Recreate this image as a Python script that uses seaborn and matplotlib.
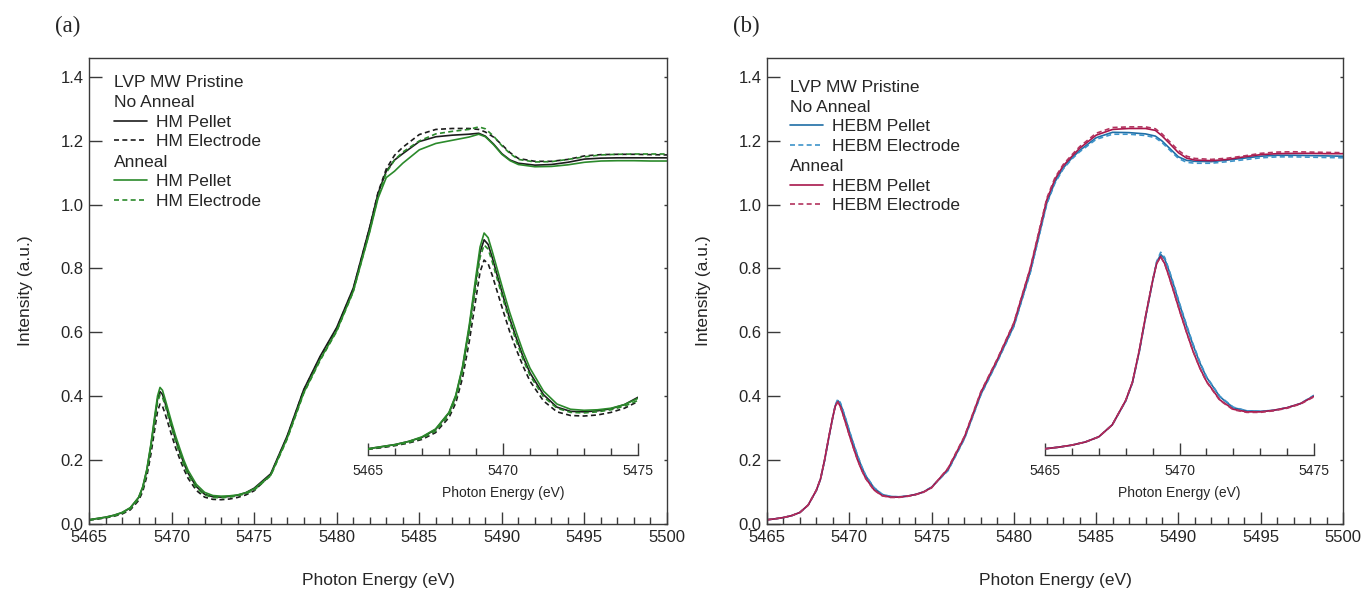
import matplotlib
matplotlib.use("Agg")
import matplotlib.pyplot as plt
from matplotlib.ticker import MultipleLocator
import pandas as pd
import seaborn as sns

# ---------------- data ----------------
energy = [5465, 5465.5, 5466, 5466.5, 5467, 5467.5, 5468, 5468.25, 5468.5, 5468.75,
          5469, 5469.15, 5469.3, 5469.45, 5469.6, 5469.8, 5470, 5470.25, 5470.5, 5470.75,
          5471, 5471.5, 5472, 5472.5, 5473, 5473.5, 5474, 5474.5, 5475,
          5476, 5477, 5478, 5479, 5480, 5481, 5482, 5482.5, 5483,
          5483.5, 5484, 5485, 5486, 5487, 5488, 5488.6, 5489, 5489.5, 5490, 5490.5, 5491,
          5492, 5493, 5494, 5495, 5496, 5497, 5498, 5499, 5500]

# panel (a)
hm_pellet_noanneal = [0.012, 0.016, 0.020, 0.026, 0.034, 0.049, 0.081, 0.113, 0.167, 0.245,
                      0.337, 0.390, 0.414, 0.405, 0.380, 0.343, 0.306, 0.262, 0.224, 0.188,
                      0.158, 0.116, 0.092, 0.084, 0.083, 0.085, 0.089, 0.097, 0.111,
                      0.156, 0.275, 0.420, 0.525, 0.615, 0.738, 0.930, 1.035, 1.105,
                      1.140, 1.160, 1.198, 1.213, 1.218, 1.221, 1.224, 1.215, 1.190, 1.160, 1.140, 1.130,
                      1.124, 1.126, 1.133, 1.143, 1.146, 1.147, 1.147, 1.147, 1.147]
hm_electrode_noanneal = [0.011, 0.014, 0.018, 0.023, 0.030, 0.043, 0.072, 0.100, 0.148, 0.218,
                         0.302, 0.352, 0.375, 0.368, 0.346, 0.312, 0.278, 0.237, 0.202, 0.170,
                         0.142, 0.104, 0.083, 0.076, 0.075, 0.077, 0.082, 0.090, 0.103,
                         0.153, 0.272, 0.418, 0.522, 0.612, 0.735, 0.928, 1.038, 1.112,
                         1.155, 1.180, 1.220, 1.236, 1.239, 1.239, 1.236, 1.228, 1.212, 1.188, 1.163, 1.145,
                         1.136, 1.136, 1.142, 1.153, 1.157, 1.158, 1.158, 1.157, 1.156]
hm_pellet_anneal = [0.012, 0.016, 0.020, 0.026, 0.035, 0.050, 0.082, 0.115, 0.170, 0.250,
                    0.345, 0.400, 0.427, 0.418, 0.392, 0.355, 0.318, 0.274, 0.235, 0.198,
                    0.167, 0.123, 0.098, 0.088, 0.086, 0.087, 0.090, 0.097, 0.109,
                    0.152, 0.268, 0.410, 0.515, 0.605, 0.728, 0.915, 1.020, 1.085,
                    1.105, 1.130, 1.172, 1.192, 1.202, 1.212, 1.221, 1.213, 1.188, 1.158, 1.138, 1.126,
                    1.119, 1.120, 1.125, 1.133, 1.137, 1.138, 1.138, 1.137, 1.137]
hm_electrode_anneal = [0.011, 0.015, 0.019, 0.024, 0.032, 0.046, 0.077, 0.108, 0.160, 0.236,
                       0.326, 0.380, 0.404, 0.396, 0.372, 0.336, 0.300, 0.256, 0.218, 0.183,
                       0.153, 0.112, 0.090, 0.082, 0.081, 0.083, 0.087, 0.094, 0.105,
                       0.150, 0.265, 0.408, 0.512, 0.603, 0.727, 0.918, 1.025, 1.100,
                       1.140, 1.165, 1.200, 1.222, 1.230, 1.236, 1.244, 1.238, 1.215, 1.185, 1.160, 1.142,
                       1.134, 1.135, 1.142, 1.150, 1.156, 1.158, 1.159, 1.159, 1.159]

# panel (b)
hebm_pellet_noanneal = [0.012, 0.015, 0.019, 0.025, 0.035, 0.058, 0.104, 0.139, 0.198, 0.268,
                        0.334, 0.370, 0.386, 0.377, 0.356, 0.324, 0.290, 0.250, 0.212, 0.178,
                        0.150, 0.112, 0.091, 0.085, 0.084, 0.086, 0.091, 0.099, 0.114,
                        0.168, 0.268, 0.406, 0.510, 0.620, 0.790, 1.005, 1.072, 1.115,
                        1.145, 1.170, 1.210, 1.227, 1.226, 1.222, 1.215, 1.200, 1.175, 1.150, 1.139, 1.136,
                        1.135, 1.140, 1.146, 1.152, 1.155, 1.155, 1.154, 1.153, 1.152]
hebm_electrode_noanneal = [0.012, 0.015, 0.019, 0.025, 0.035, 0.058, 0.104, 0.139, 0.197, 0.267,
                           0.334, 0.372, 0.390, 0.380, 0.358, 0.326, 0.292, 0.252, 0.214, 0.180,
                           0.151, 0.113, 0.092, 0.085, 0.084, 0.086, 0.091, 0.099, 0.115,
                           0.166, 0.266, 0.404, 0.508, 0.618, 0.787, 1.002, 1.068, 1.112,
                           1.142, 1.166, 1.205, 1.221, 1.221, 1.217, 1.210, 1.195, 1.170, 1.145, 1.133, 1.130,
                           1.130, 1.135, 1.141, 1.147, 1.150, 1.150, 1.149, 1.148, 1.147]
hebm_pellet_anneal = [0.012, 0.015, 0.019, 0.025, 0.035, 0.058, 0.105, 0.140, 0.200, 0.270,
                      0.335, 0.368, 0.382, 0.368, 0.345, 0.312, 0.278, 0.238, 0.200, 0.168,
                      0.142, 0.106, 0.088, 0.083, 0.083, 0.086, 0.091, 0.099, 0.113,
                      0.172, 0.272, 0.412, 0.515, 0.628, 0.800, 1.015, 1.080, 1.122,
                      1.150, 1.177, 1.218, 1.236, 1.239, 1.239, 1.233, 1.216, 1.190, 1.163, 1.146, 1.140,
                      1.138, 1.142, 1.150, 1.157, 1.160, 1.161, 1.161, 1.160, 1.160]
hebm_electrode_anneal = [0.012, 0.015, 0.019, 0.025, 0.035, 0.058, 0.105, 0.140, 0.200, 0.270,
                         0.336, 0.369, 0.381, 0.368, 0.345, 0.312, 0.278, 0.238, 0.200, 0.168,
                         0.141, 0.105, 0.087, 0.082, 0.082, 0.085, 0.090, 0.098, 0.112,
                         0.174, 0.274, 0.414, 0.517, 0.630, 0.802, 1.020, 1.085, 1.126,
                         1.155, 1.182, 1.224, 1.242, 1.244, 1.244, 1.238, 1.222, 1.196, 1.170, 1.152, 1.145,
                         1.142, 1.146, 1.153, 1.161, 1.165, 1.166, 1.165, 1.164, 1.163]

panel_titles = ["(a)", "(b)"]
header_text = "LVP MW Pristine\nNo Anneal"
anneal_text = "Anneal"
xlabel_text = "Photon Energy (eV)"
ylabel_text = "Intensity (a.u.)"
main_xticks = [5465, 5470, 5475, 5480, 5485, 5490, 5495, 5500]
main_yticks = [0.0, 0.2, 0.4, 0.6, 0.8, 1.0, 1.2, 1.4]
inset_xticks = [5465, 5470, 5475]

# ---------------- styling ----------------
sns.set_style("ticks")
plt.rcParams["font.family"] = ["Liberation Sans", "DejaVu Sans"]
plt.rcParams["axes.linewidth"] = 1.0

SPINE = "#3a3a3a"
panel_a = [
    ("HM Pellet", hm_pellet_noanneal, "#1c1c1c", False),
    ("HM Electrode", hm_electrode_noanneal, "#1c1c1c", True),
    ("HM Pellet", hm_pellet_anneal, "#2b8a2b", False),
    ("HM Electrode", hm_electrode_anneal, "#2b8a2b", True),
]
panel_b = [
    ("HEBM Pellet", hebm_pellet_noanneal, "#1f6ea6", False),
    ("HEBM Electrode", hebm_electrode_noanneal, "#3d93c9", True),
    ("HEBM Pellet", hebm_pellet_anneal, "#a8164b", False),
    ("HEBM Electrode", hebm_electrode_anneal, "#b3325e", True),
]

W, H = 1362, 590
fig = plt.figure(figsize=(W / 100, H / 100), dpi=100)
LEGFS = 12.5


def px_rect(x0, x1, ytop, ybot):
    return [x0 / W, (H - ybot) / H, (x1 - x0) / W, (ybot - ytop) / H]


def draw(series, main_rect, inset_rect, leg_x, leg_y1, leg_y2):
    ax = fig.add_axes(main_rect)
    ins = fig.add_axes(inset_rect)
    ins.patch.set_alpha(0)
    df_all = pd.DataFrame({"energy": energy})
    lines = []
    for name, vals, color, dashed in series:
        df = df_all.assign(intensity=vals)
        sns.lineplot(data=df, x="energy", y="intensity", ax=ax, color=color,
                     lw=1.2, legend=False, estimator=None)
        ln = ax.lines[-1]
        sub = df[df["energy"] <= 5475]
        sns.lineplot(data=sub, x="energy", y="intensity", ax=ins, color=color,
                     lw=1.2, legend=False, estimator=None)
        ln2 = ins.lines[-1]
        if dashed:
            ln.set_dashes([3, 2])
            ln2.set_dashes([3, 2])
        lines.append((ln, name))

    # main axes
    ax.set_xlim(5465, 5500)
    ax.set_ylim(0, 1.46)
    ax.set_xticks(main_xticks)
    ax.set_yticks(main_yticks)
    ax.set_yticklabels([f"{v:.1f}" for v in main_yticks])
    ax.xaxis.set_minor_locator(MultipleLocator(1))
    ax.tick_params(axis="x", which="major", direction="in", length=9, width=1.0,
                   color=SPINE, labelsize=12, pad=4.5, bottom=True)
    ax.tick_params(axis="x", which="minor", direction="in", length=5, width=1.0,
                   color=SPINE, bottom=True)
    ax.tick_params(axis="y", which="major", direction="in", length=9, width=1.0,
                   color=SPINE, labelsize=12, pad=4, left=True, right=True)
    for sp in ax.spines.values():
        sp.set_color(SPINE)
        sp.set_linewidth(1.0)
    ax.set_xlabel(xlabel_text, fontsize=12.5, labelpad=20)
    ax.set_ylabel(ylabel_text, fontsize=12.5, labelpad=20)

    # legends
    h1 = [lines[0][0], lines[1][0]]
    l1 = [lines[0][1], lines[1][1]]
    h2 = [lines[2][0], lines[3][0]]
    l2 = [lines[2][1], lines[3][1]]
    common = dict(loc="upper left", frameon=False, fontsize=LEGFS, title_fontsize=LEGFS,
                  alignment="left", borderpad=0.2, borderaxespad=0, handlelength=1.9,
                  handletextpad=0.5, labelspacing=0.25)
    leg1 = ax.legend(h1, l1, title=header_text, bbox_to_anchor=(leg_x, leg_y1), **common)
    leg1.get_title().set_linespacing(1.4)
    ax.add_artist(leg1)
    ax.legend(h2, l2, title=anneal_text, bbox_to_anchor=(leg_x, leg_y2), **common)

    # tiny mirrored ticks on the right spine
    for t in ax.yaxis.get_major_ticks():
        t.tick2line.set_markersize(2.5)

    # inset
    ins.set_xlim(5465, 5475)
    ins.set_ylim(0, 0.479)
    ins.set_xticks(inset_xticks)
    ins.xaxis.set_minor_locator(MultipleLocator(1))
    ins.set_yticks([])
    for k in ["top", "right", "left"]:
        ins.spines[k].set_visible(False)
    ins.spines["bottom"].set_color(SPINE)
    ins.spines["bottom"].set_linewidth(1.0)
    ins.tick_params(axis="x", which="major", direction="in", length=9, width=1.0,
                    color=SPINE, labelsize=10, pad=6.5)
    ins.tick_params(axis="x", which="minor", direction="in", length=5, width=1.0,
                    color=SPINE)
    ins.set_xlabel(xlabel_text, fontsize=10, labelpad=5.5)
    ins.set_ylabel("")
    return ax


draw(panel_a, px_rect(89, 667, 58, 523.6), px_rect(368, 638, 206, 455),
     0.038, 0.970, 0.800)
draw(panel_b, px_rect(767, 1343, 58, 523.6), px_rect(1045, 1314, 206, 455),
     0.034, 0.960, 0.790)

fig.text(55 / W, 1 - 26 / H, panel_titles[0], fontsize=16.5, family="Liberation Serif",
         va="center", ha="left")
fig.text(733 / W, 1 - 26 / H, panel_titles[1], fontsize=16.5, family="Liberation Serif",
         va="center", ha="left")

fig.savefig("out.png", dpi=100)
